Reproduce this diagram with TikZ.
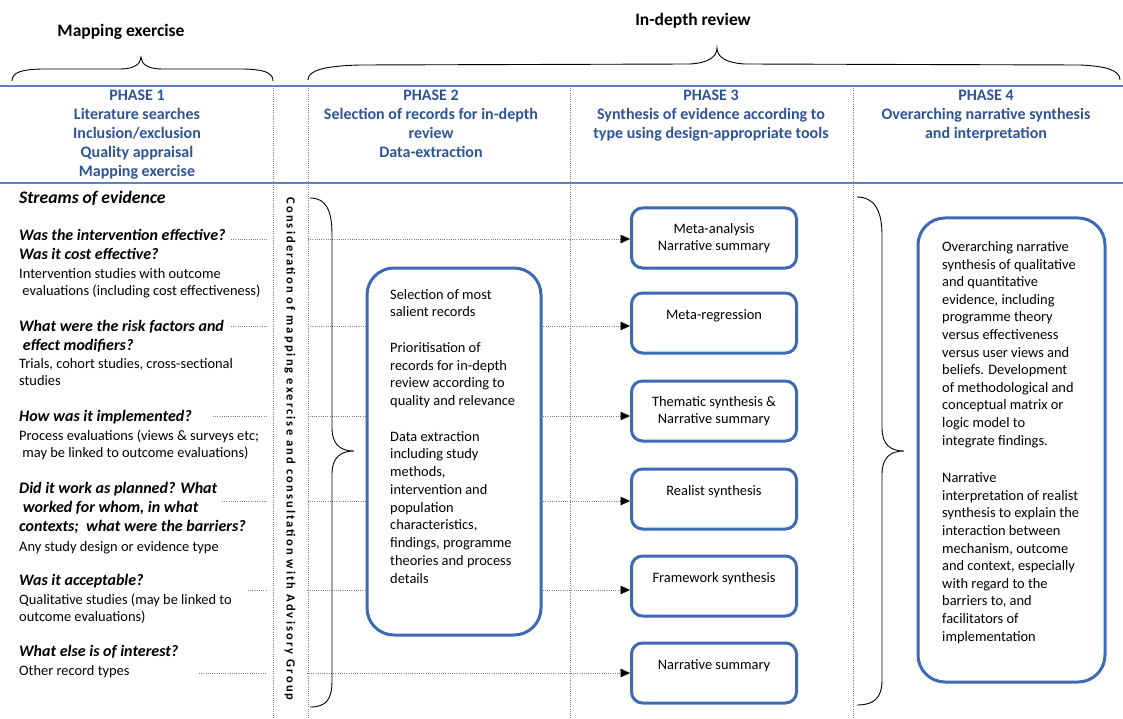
\documentclass[tikz,border=0pt]{standalone}
\usepackage{fontspec}
\setmainfont{Carlito}
\newfontfamily\spacedfont[LetterSpace=17]{Carlito}
\usetikzlibrary{arrows.meta}
\definecolor{hblue}{HTML}{2F5496}
\definecolor{bblue}{HTML}{3D6AB3}
\definecolor{lblue}{HTML}{5B82C6}
\definecolor{dotgray}{HTML}{808080}
\tikzset{
  body/.style={font=\fontsize{14.4}{17.7}\selectfont, inner sep=0pt, align=left},
  qtext/.style={font=\fontsize{16}{19.3}\selectfont\bfseries\itshape, inner sep=0pt, align=left},
  head/.style={font=\fontsize{16}{19}\selectfont\bfseries, text=hblue, inner sep=0pt, align=center},
  toplabel/.style={font=\fontsize{17.5}{20}\selectfont\bfseries, inner sep=0pt},
  bandline/.style={draw=lblue, line width=1.6pt},
  vdots/.style={draw=dotgray, line width=0.6pt, dash pattern=on 1pt off 1.2pt},
  conn/.style={draw=dotgray, line width=0.6pt, dash pattern=on 1pt off 1.2pt},
  tip/.style={-{Triangle[length=9.5pt,width=8.5pt,fill=black,color=black]}},
  sbox/.style={draw=bblue, line width=3pt, rounded corners=11pt, fill=white,
    minimum width=165pt, minimum height=60pt, inner sep=0pt, align=center,
    font=\fontsize{14.4}{17.5}\selectfont},
  bigbox/.style={draw=bblue, line width=3pt, rounded corners=27pt, fill=white},
  brace/.style={draw=black, line width=0.9pt},
}
\begin{document}
\begin{tikzpicture}[x=1pt,y=-1pt]
\useasboundingbox (0,0) rectangle (1123,719);

% top labels and braces
\node[toplabel] (mapl) at (121,32) {Mapping exercise};
\node[toplabel] (depl) at (693,21) {In-depth review};
\draw[brace] (12,81) .. controls (12,73) and (20,69) .. (45,69) -- (120,69)
  .. controls (134,69) and (141,64) .. (141,57)
  .. controls (141,64) and (148,69) .. (162,69) -- (240,69)
  .. controls (265,69) and (273,73) .. (273,81);
\draw[brace] (308,80) .. controls (308,70) and (325,66) .. (360,65) -- (690,64)
  .. controls (708,63) and (717,57) .. (717,48)
  .. controls (717,57) and (726,63) .. (745,64) -- (1080,65)
  .. controls (1105,66) and (1120,70) .. (1120,80);

% header band
\draw[bandline] (0,86) -- (1123,86);
\draw[bandline] (0,183) -- (1123,183);

% (anchor base = baseline of the last line)
\node[head, anchor=base] (h1) at (137,177) {PHASE 1\\Literature searches\\Inclusion/exclusion\\Quality appraisal\\Mapping exercise};
\node[head, anchor=base] (h2) at (431,158) {PHASE 2\\Selection of records for in-depth\\review\\Data-extraction};
\node[head, anchor=base] (h3) at (711,139) {PHASE 3\\Synthesis of evidence according to\\type using design-appropriate tools};
\node[head, anchor=base] (h4) at (986,139) {PHASE 4\\Overarching narrative synthesis\\and interpretation};

% left column
\node[font=\fontsize{17.6}{20}\selectfont\bfseries\itshape, inner sep=0pt, anchor=base west] (streams) at (19,204) {Streams of evidence};
\node[qtext, anchor=base west] (q1) at (19,259.3) {Was the intervention effective?\\Was it cost effective?};
\node[body, anchor=base west] (d1) at (19,295.7) {Intervention studies with outcome\\\ evaluations (including cost effectiveness)};
\node[qtext, anchor=base west] (q2) at (19,350.3) {What were the risk factors and\\\ effect modifiers?};
\node[body, anchor=base west] (d2) at (19,385.7) {Trials, cohort studies, cross-sectional\\studies};
\node[qtext, anchor=base west] (q3) at (19,421) {How was it implemented?};
\node[body, anchor=base west] (d3) at (19,457.7) {Process evaluations (views \& surveys etc;\\\ may be linked to outcome evaluations)};
\node[qtext, anchor=base west] (q4) at (19,531.6) {Did it work as planned? What\\\ worked for whom, in what\\contexts;\ \ what were the barriers?};
\node[body, anchor=base west] (d4) at (19,551) {Any study design or evidence type};
\node[qtext, anchor=base west] (q5) at (19,585) {Was it acceptable?};
\node[body, anchor=base west] (d5) at (19,621.7) {Qualitative studies (may be linked to\\outcome evaluations)};
\node[qtext, anchor=base west] (q6) at (19,656) {What else is of interest?};
\node[body, anchor=base west] (d6) at (19,675) {Other record types};

% phase 3 boxes
\node[sbox] (m1) at (714,238) {Meta-analysis\\Narrative summary};
\node[sbox] (m2) at (714,323) {Meta-regression\\[-6pt]\strut};
\node[sbox] (m3) at (714,411) {Thematic synthesis \&\\Narrative summary};
\node[sbox] (m4) at (714,499) {Realist synthesis\\[-6pt]\strut};
\node[sbox] (m5) at (714,586) {Framework synthesis\\[-6pt]\strut};
\node[sbox] (m6) at (714,673) {Narrative summary\\[-6pt]\strut};

% connector start points
\coordinate (s1) at (231,239);
\coordinate (s2) at (231,326);
\coordinate (s3) at (213,416);
\coordinate (s4) at (222,501);
\coordinate (s5) at (248,590);
\coordinate (s6) at (199,673);

\draw[conn,tip] (s1) -- (m1.west |- s1);
\draw[conn,tip] (s2) -- (m2.west |- s2);
\draw[conn,tip] (s3) -- (m3.west |- s3);
\draw[conn,tip] (s4) -- (m4.west |- s4);
\draw[conn,tip] (s5) -- (m5.west |- s5);
\draw[conn,tip] (s6) -- (m6.west |- s6);

% white band behind the rotated text
\fill[white] (267,188) rectangle (307,714);
\node[font=\fontsize{12.5}{14}\selectfont\spacedfont\bfseries, rotate=-90, inner sep=0pt] (advis) at (290,449)
  {Consideration of mapping exercise and consultation with Advisory Group};

% vertical dotted lines
\draw[vdots] (273,86) -- (273,719);
\draw[vdots] (308,86) -- (308,719);
\draw[vdots] (570,86) -- (570,719);
\draw[vdots] (853,86) -- (853,719);

% phase 2 box and brace
\draw[brace] (310,198) .. controls (326,198) and (332,210) .. (332,235) -- (332,428)
  .. controls (332,444) and (340,451) .. (354,451)
  .. controls (340,451) and (332,458) .. (332,474) -- (332,680)
  .. controls (332,700) and (326,707) .. (310,707);
\path[bigbox] (367,268) rectangle (541,635);
\node[body, font=\fontsize{14.4}{17.75}\selectfont, anchor=base west] (p2) at (390,583) {Selection of most\\salient records\\[17.75pt]Prioritisation of\\records for in-depth\\review according to\\quality and relevance\\[17.75pt]Data extraction\\including study\\methods,\\intervention and\\population\\characteristics,\\findings, programme\\theories and process\\details};

% phase 4 box and brace
\draw[brace] (857,197) .. controls (874,197) and (882,210) .. (882,235) -- (882,428)
  .. controls (882,444) and (890,451) .. (904,451)
  .. controls (890,451) and (882,458) .. (882,474) -- (882,680)
  .. controls (882,698) and (874,705) .. (857,705);
\path[bigbox] (918,218) rectangle (1105,682);
\node[body, font=\fontsize{14.4}{17.6}\selectfont, anchor=base west] (p4) at (942,641) {Overarching narrative\\synthesis of qualitative\\and quantitative\\evidence, including\\programme theory\\versus effectiveness\\versus user views and\\beliefs. Development\\of methodological and\\conceptual matrix or\\logic model to\\integrate findings.\\[20pt]Narrative\\interpretation of realist\\synthesis to explain the\\interaction between\\mechanism, outcome\\and context, especially\\with regard to the\\barriers to, and\\facilitators of\\implementation};
\end{tikzpicture}
\end{document}
